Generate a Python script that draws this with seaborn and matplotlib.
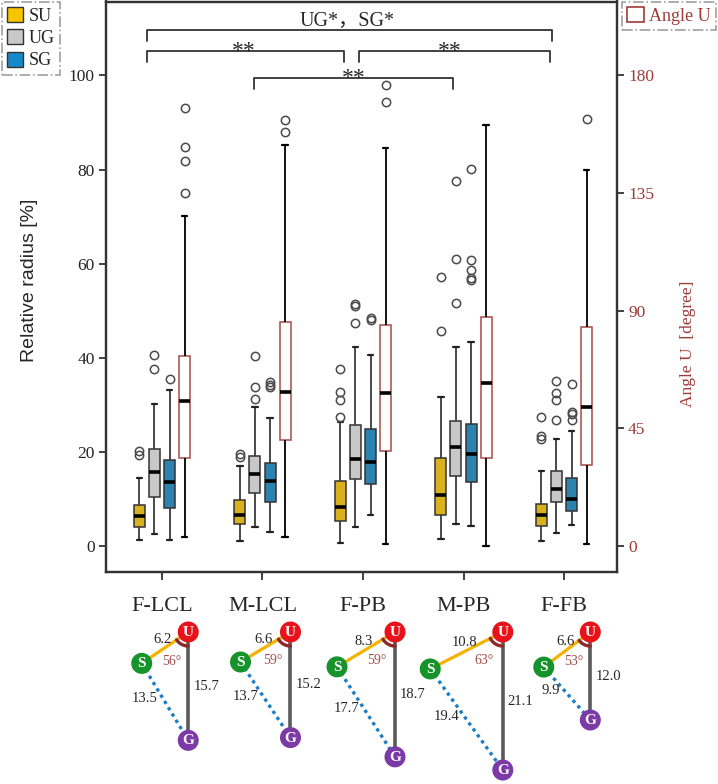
import numpy as np
import pandas as pd
import matplotlib
matplotlib.use("Agg")
import matplotlib.pyplot as plt
import seaborn as sns
from matplotlib.patches import Patch, Circle

# ---------------- data ----------------
categories = ["F-LCL", "M-LCL", "F-PB", "M-PB", "F-FB"]
series = ["SU", "UG", "SG", "Angle U"]

# box statistics per category: [lower whisker, Q1, median, Q3, upper whisker]
su_stats = [[1.4, 4.0, 6.4, 8.7, 14.5], [1.1, 4.8, 6.7, 9.9, 17.1], [0.6, 5.4, 8.4, 13.8, 26.3],
            [1.6, 6.7, 10.9, 18.7, 31.7], [1.1, 4.3, 6.7, 9.0, 16.0]]
su_out = [[20.3, 19.3], [19.6, 18.9], [37.6, 32.7, 31.1, 27.4], [57.2, 45.6], [27.4, 23.4, 22.7]]

ug_stats = [[2.6, 10.4, 15.7, 20.6, 30.2], [4.0, 11.2, 15.3, 19.1, 29.6], [4.1, 14.3, 18.6, 25.7, 42.3],
            [4.8, 15.0, 21.1, 26.6, 42.3], [2.8, 9.4, 12.1, 16.0, 22.8]]
ug_out = [[40.7, 37.6], [40.3, 33.8, 31.3], [51.4, 51.0, 47.4], [77.5, 61.1, 51.6], [35.1, 32.6, 31.1, 26.8]]

sg_stats = [[1.3, 8.2, 13.6, 18.4, 33.2], [3.0, 9.4, 13.8, 17.6, 27.3], [6.6, 13.3, 17.8, 24.9, 40.5],
            [4.3, 13.7, 19.5, 26.0, 43.3], [4.4, 7.5, 10.0, 14.4, 24.5]]
sg_out = [[35.5], [34.9, 34.3, 33.9], [48.5, 48.1], [80.2, 60.8, 58.7, 57.0, 56.6], [34.5, 28.5, 28.1, 26.7]]

angle_stats = [[3.6, 33.8, 55.6, 72.8, 126.4], [3.6, 40.6, 59.0, 85.7, 153.2], [0.7, 36.2, 58.5, 84.6, 152.3],
               [0.0, 33.8, 62.2, 87.6, 161.2], [0.8, 31.0, 53.2, 83.7, 144.0]]
angle_out = [[167.6, 152.7, 147.3, 135.0], [163.1, 158.4], [176.2, 170.0], [], [163.5]]

# schematic values (below the chart)
su_len = [6.2, 6.6, 8.3, 10.8, 6.6]
ug_len = [15.7, 15.2, 18.7, 21.1, 12.0]
sg_len = [13.5, 13.7, 17.7, 19.4, 9.9]
angle_u = [56, 59, 59, 63, 53]

sig_main = "UG*，SG*"
sig_pair = "**"

# ---------------- build sample tables reproducing the box statistics ----------------
def sample(stats, outliers, m=30):
    lo, q1, med, q3, hi = stats
    return [lo] + [q1] * m + [med] * m + [q3] * m + [hi] + list(outliers)

rows = []
for name, st, ou in [("SU", su_stats, su_out), ("UG", ug_stats, ug_out), ("SG", sg_stats, sg_out)]:
    for cat, s, o in zip(categories, st, ou):
        for v in sample(s, o):
            rows.append((cat, name, v))
df_rr = pd.DataFrame(rows, columns=["category", "series", "value"])

rows = []
for cat, s, o in zip(categories, angle_stats, angle_out):
    for v in sample(s, o):
        rows.append((cat, "Angle U", v))
df_ang = pd.DataFrame(rows, columns=["category", "series", "value"])

# ---------------- styling ----------------
sns.set_style("white")
plt.rcParams["font.family"] = ["Liberation Serif", "Noto Sans CJK SC", "DejaVu Sans"]

palette = {"SU": "#f8c300", "UG": "#c8c8c8", "SG": "#168ac6", "Angle U": "#ffffff"}
red = "#9e3b38"
W, H = 718, 784

fig = plt.figure(figsize=(W / 100, H / 100), dpi=100)
ax = fig.add_axes([106 / W, 1 - 572 / H, (617 - 106) / W, (572 - 1.5) / H])

flier = dict(marker="o", markerfacecolor="none", markeredgecolor="#4a4a4a",
             markersize=6, markeredgewidth=1.1)
sns.boxplot(data=df_rr, x="category", y="value", hue="series", order=categories,
            hue_order=series, palette=palette, width=0.6, gap=0.27, linewidth=1.1,
            dodge=True, linecolor="#333333", flierprops=flier,
            medianprops=dict(color="black", linewidth=2.6),
            whiskerprops=dict(color="#3a3a3a", linewidth=1.3),
            capprops=dict(color="#222222", linewidth=1.6),
            legend=False, ax=ax)

ax2 = ax.twinx()
sns.boxplot(data=df_ang, x="category", y="value", hue="series", order=categories,
            hue_order=series, palette=palette, width=0.6, gap=0.27, linewidth=1.1,
            dodge=True, linecolor="black", flierprops=flier,
            boxprops=dict(edgecolor="#a94a47"),
            medianprops=dict(color="black", linewidth=2.6),
            whiskerprops=dict(color="black", linewidth=1.3),
            capprops=dict(color="black", linewidth=1.6),
            legend=False, ax=ax2)

ylo, yhi = -5.5, 115.7
ax.set_ylim(ylo, yhi)
ax2.set_ylim(ylo * 1.8, yhi * 1.8)
ax.set_xlim(-0.557, 4.527)
ax.set_yticks([0, 20, 40, 60, 80, 100])
ax2.set_yticks([0, 45, 90, 135, 180])
ax.set_xlabel("")
ax.set_ylabel("")
ax2.set_ylabel("")
ax2.set_xlabel("")

for a in (ax, ax2):
    for sp in a.spines.values():
        sp.set_visible(True)
        sp.set_color("#333333")
        sp.set_linewidth(1.6)

ax.tick_params(axis="y", left=True, direction="out", length=5, width=1.3, color="#333333",
               labelsize=12.5, pad=3)
ax.tick_params(axis="x", bottom=True, direction="out", length=6, width=1.3, color="#333333",
               labelsize=16, pad=12)
ax2.tick_params(axis="y", right=True, direction="out", length=5, width=1.3, color="#333333",
                labelsize=12.5, labelcolor=red, pad=3)

# significance brackets
bc = "#333333"
def bracket(x0, x1, y, ydrop):
    ax.plot([x0, x0, x1, x1], [y - ydrop, y, y, y - ydrop], color=bc, lw=1.3, clip_on=False)

bracket(-0.152, 3.883, 109.6, 2.2)
bracket(-0.152, 1.814, 105.2, 2.3)
bracket(1.963, 3.86, 105.2, 2.3)
bracket(0.915, 2.90, 99.4, 2.3)
ax.text(1.838, 110.6, sig_main, ha="center", va="baseline", fontsize=14.5)
ax.text(0.809, 103.9, sig_pair, ha="center", va="baseline", fontsize=17)
ax.text(2.866, 103.9, sig_pair, ha="center", va="baseline", fontsize=17)
ax.text(1.903, 98.1, sig_pair, ha="center", va="baseline", fontsize=17)

# axis labels
fig.text(30 / W, 1 - 280 / H, "Relative radius [%]", rotation=90, ha="center", va="center",
         fontsize=14, family=["Liberation Sans", "DejaVu Sans"])
fig.text(688 / W, 1 - 344 / H, "Angle U  [degree]", rotation=90, ha="center", va="center",
         fontsize=12.5, color=red)

# legends
h_left = [Patch(facecolor=palette[s], edgecolor="#333333", linewidth=1.0) for s in series[:3]]
leg1 = fig.legend(h_left, series[:3], loc="upper left", bbox_to_anchor=(0.0, 1.0),
                  frameon=True, fancybox=False, borderaxespad=0.1, handlelength=0.9,
                  handleheight=0.9, handletextpad=0.3, labelspacing=0.25, borderpad=0.3,
                  fontsize=13, edgecolor="#888888")
leg1.get_frame().set_linestyle("-.")
leg1.get_frame().set_linewidth(1.2)
h_right = [Patch(facecolor="white", edgecolor=red, linewidth=1.2)]
leg2 = fig.legend(h_right, ["Angle U"], loc="upper right", bbox_to_anchor=(1.0, 1.0),
                  frameon=True, fancybox=False, borderaxespad=0.1, handlelength=0.9,
                  handleheight=0.9, handletextpad=0.3, borderpad=0.3,
                  fontsize=13, edgecolor="#888888", labelcolor=red)
leg2.get_frame().set_linestyle("-.")
leg2.get_frame().set_linewidth(1.2)

# ---------------- schematic diagrams ----------------
axd = fig.add_axes([0, 0, 1, 1])
axd.set_xlim(0, W)
axd.set_ylim(H, 0)
axd.axis("off")
axd.patch.set_visible(False)

def draw_len(v):
    # centre-to-centre drawing length (pixels) for a distance value
    return 22 + 5.5 * v

yu = 632.0
for i in range(len(categories)):
    xt = ax.transData.transform((i, 0))[0]
    th = np.deg2rad(angle_u[i])
    dx = -np.sin(th) * draw_len(su_len[i])
    dy = np.cos(th) * draw_len(su_len[i])
    xu = xt + 3 - dx / 2
    U = np.array([xu, yu])
    S = U + np.array([dx, dy])
    G = U + np.array([0, draw_len(ug_len[i])])
    axd.plot([U[0], G[0]], [U[1], G[1]], color="#5a5a5a", lw=2.6, zorder=2)
    axd.plot([S[0], U[0]], [S[1], U[1]], color="#f5b300", lw=2.3, zorder=2)
    axd.plot([S[0], G[0]], [S[1], G[1]], color="#1a7ec6", lw=2.4, ls=(0, (1, 1.2)), zorder=2)
    # angle arc
    phi = np.arctan2(-dx, dy)
    t = np.linspace(0, phi, 20)
    r = 14
    axd.plot(U[0] - r * np.sin(t), U[1] + r * np.cos(t), color="#8a2a2a", lw=2.4, zorder=3)
    for P, c, lab in [(U, "#e8121a", "U"), (S, "#17932b", "S"), (G, "#7c3aa6", "G")]:
        axd.add_patch(Circle(P, 10.5, facecolor=c, edgecolor="none", zorder=4))
        axd.text(P[0], P[1] + 0.5, lab, color="white", fontsize=11, fontweight="bold",
                 ha="center", va="center", zorder=5)
    mid_su = (S + U) / 2
    axd.text(mid_su[0] - 2, mid_su[1] - 8, f"{su_len[i]:.1f}", ha="center", va="center", fontsize=10.5)
    mid_ug = (U + G) / 2
    axd.text(U[0] + 5, mid_ug[1], f"{ug_len[i]:.1f}", ha="left", va="center", fontsize=10.5)
    mid_sg = (S + G) / 2
    axd.text(mid_sg[0] - 7, mid_sg[1] - 3, f"{sg_len[i]:.1f}", ha="right", va="center", fontsize=10.5)
    bis = th / 2
    axd.text(U[0] - 36 * np.sin(bis), U[1] + 33 * np.cos(bis), f"{angle_u[i]}°",
             ha="center", va="center", fontsize=10, color="#a0504c")

fig.savefig("out.png", dpi=100)
